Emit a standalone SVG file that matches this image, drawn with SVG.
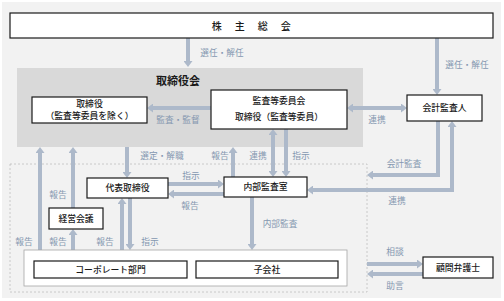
<svg xmlns="http://www.w3.org/2000/svg" width="504" height="301" viewBox="0 0 504 301">
<defs>
<style>
.bg{fill:#f2f2f2}
.board{fill:#d9d9d9}
.node{fill:#ffffff;stroke:#1a1a1a;stroke-width:1.2}
.outer{fill:#ffffff;stroke:#a6a6a6;stroke-width:0.8}
.dash{fill:none;stroke:#bfbfbf;stroke-width:0.8;stroke-dasharray:2 2}
.t{font-family:"Noto Sans CJK JP","Noto Sans CJK SC",sans-serif;font-size:8.8px;font-weight:500;fill:#1a1a1a;text-anchor:middle}
.title{font-family:"Noto Sans CJK JP","Noto Sans CJK SC",sans-serif;font-size:11px;font-weight:bold;fill:#1a1a1a;text-anchor:middle}
.lbl{font-family:"Noto Sans CJK JP","Noto Sans CJK SC",sans-serif;font-size:8.7px;fill:#8497b0;text-anchor:middle}
.c{fill:none;stroke:#adb9ca;stroke-width:4;marker-end:url(#ah)}
.d{marker-start:url(#ah)}
</style>
<marker id="ah" markerUnits="userSpaceOnUse" markerWidth="7" markerHeight="9" refX="1" refY="4.5" orient="auto-start-reverse" viewBox="0 0 7 9">
<path d="M0,0 L6,4.5 L0,9 z" fill="#adb9ca"/>
</marker>
</defs>
<rect class="bg" x="2" y="2" width="499" height="296"/>
<rect class="board" x="17" y="68" width="346" height="79"/>
<rect class="dash" x="10" y="164" width="357" height="128"/>

<g id="connectors">
<line class="c" x1="188" y1="38" x2="188" y2="62"/>
<line class="c" x1="437" y1="38" x2="437" y2="90"/>
<line class="c" x1="211" y1="108" x2="152" y2="108"/>
<line class="c d" x1="352" y1="108" x2="402" y2="108"/>
<line class="c" x1="40" y1="250" x2="40" y2="152"/>
<line class="c" x1="73" y1="208" x2="73" y2="152"/>
<line class="c" x1="73" y1="250" x2="73" y2="234"/>
<line class="c" x1="127" y1="147" x2="127" y2="173"/>
<line class="c" x1="233" y1="177" x2="233" y2="152"/>
<line class="c d" x1="273" y1="134" x2="273" y2="172"/>
<line class="c" x1="286" y1="129" x2="286" y2="172"/>
<line class="c" x1="168" y1="184" x2="219" y2="184"/>
<line class="c" x1="224" y1="194" x2="173" y2="194"/>
<line class="c" x1="252" y1="197" x2="252" y2="245"/>
<line class="c" x1="122" y1="250" x2="122" y2="203"/>
<line class="c" x1="130" y1="198" x2="130" y2="245"/>
<polyline class="c" points="438,121 438,175 372,175"/>
<polyline class="c d" points="312,190 452,190 452,126"/>
<line class="c" x1="367" y1="264" x2="418" y2="264"/>
<line class="c" x1="423" y1="274" x2="372" y2="274"/>
</g>

<g id="labels">
<text class="lbl" x="222" y="56">選任・解任</text>
<text class="lbl" x="467" y="68">選任・解任</text>
<text class="lbl" x="178" y="123">監査・監督</text>
<text class="lbl" x="377" y="123">連携</text>
<text class="lbl" x="24" y="245">報告</text>
<text class="lbl" x="58" y="198">報告</text>
<text class="lbl" x="58" y="245">報告</text>
<text class="lbl" x="105" y="245">報告</text>
<text class="lbl" x="150" y="245">指示</text>
<text class="lbl" x="162" y="159">選定・解職</text>
<text class="lbl" x="220" y="159">報告</text>
<text class="lbl" x="258" y="159">連携</text>
<text class="lbl" x="301" y="159">指示</text>
<text class="lbl" x="191" y="179">指示</text>
<text class="lbl" x="190" y="209">報告</text>
<text class="lbl" x="280" y="227">内部監査</text>
<text class="lbl" x="404" y="167">会計監査</text>
<text class="lbl" x="397" y="204">連携</text>
<text class="lbl" x="395" y="255">相談</text>
<text class="lbl" x="395" y="289">助言</text>
</g>

<g id="shareholders">
<rect class="node" x="10" y="13" width="483" height="25"/>
<text class="t" x="252" y="29.5" style="font-size:10px;letter-spacing:1.5px">株　主　総　会</text>
</g>
<g id="board">
<text class="title" x="178" y="85">取締役会</text>
</g>
<g id="directors">
<rect class="node" x="32" y="97" width="115" height="26"/>
<text class="t" x="89.5" y="107">取締役</text>
<text class="t" x="89.5" y="119">（監査等委員を除く）</text>
</g>
<g id="audit-committee">
<rect class="node" x="211" y="90" width="136" height="39"/>
<text class="t" x="279" y="104">監査等委員会</text>
<text class="t" x="279" y="120">取締役（監査等委員）</text>
</g>
<g id="accounting-auditor">
<rect class="node" x="407" y="95" width="75" height="26"/>
<text class="t" x="444.5" y="111">会計監査人</text>
</g>
<g id="ceo">
<rect class="node" x="87" y="178" width="81" height="20"/>
<text class="t" x="127.5" y="191">代表取締役</text>
</g>
<g id="internal-audit">
<rect class="node" x="224" y="177" width="83" height="20"/>
<text class="t" x="265.5" y="190">内部監査室</text>
</g>
<g id="management-meeting">
<rect class="node" x="49" y="208" width="54" height="21"/>
<text class="t" x="76" y="221.5">経営会議</text>
</g>
<g id="group">
<rect class="outer" x="24" y="250" width="323" height="36"/>
</g>
<g id="corporate">
<rect class="node" x="34" y="261" width="153" height="17"/>
<text class="t" x="110.5" y="272.5">コーポレート部門</text>
</g>
<g id="subsidiaries">
<rect class="node" x="196" y="261" width="142" height="17"/>
<text class="t" x="267" y="272.5">子会社</text>
</g>
<g id="lawyer">
<rect class="node" x="423" y="257" width="70" height="21"/>
<text class="t" x="458" y="270.5">顧問弁護士</text>
</g>
</svg>
